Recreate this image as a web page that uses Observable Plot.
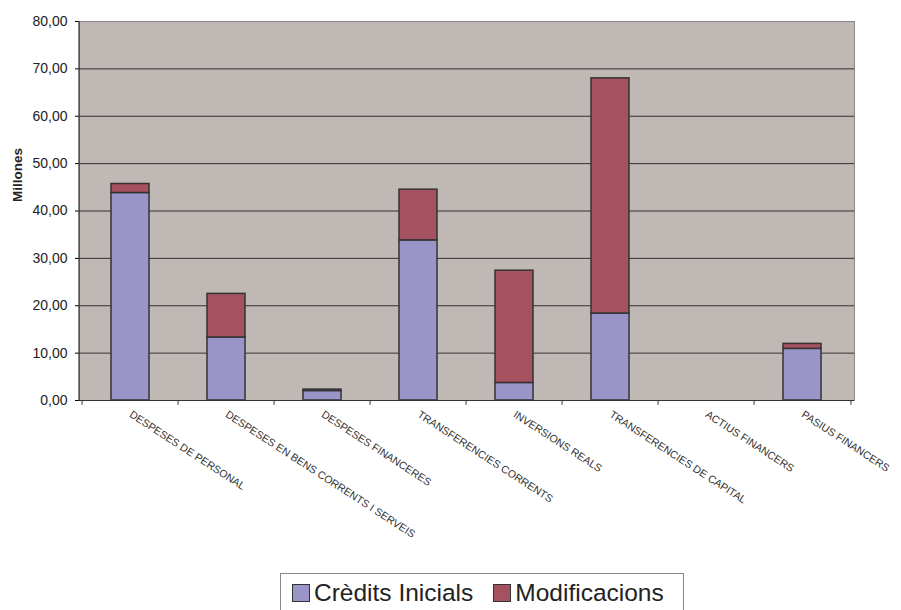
<!DOCTYPE html>
<html>
<head>
<meta charset="utf-8">
<script src="https://cdn.jsdelivr.net/npm/d3@7"></script>
<script src="https://cdn.jsdelivr.net/npm/@observablehq/plot@0.6"></script>
<style>
  body { margin: 0; background: #fff; font-family: "Liberation Sans", Arial, sans-serif; }
  #legend { position: absolute; left: 280px; top: 573px; width: 404px; height: 40px; border: 1px solid #888; box-sizing: border-box; display: flex; align-items: center; padding-left: 11px; font-size: 24.5px; color: #222; white-space: nowrap; }
  .sw { display: inline-block; flex: none; width: 18px; height: 18px; border: 1.5px solid #333; box-sizing: border-box; margin-right: 4px; }
  .item { display: flex; flex: none; align-items: center; margin-right: 20px; white-space: nowrap; }
</style>
</head>
<body>
<div id="chart"></div>
<div id="legend"></div>
<script>
const categories = [
  "DESPESES DE PERSONAL",
  "DESPESES EN BENS CORRENTS I SERVEIS",
  "DESPESES FINANCERES",
  "TRANSFERENCIES CORRENTS",
  "INVERSIONS REALS",
  "TRANSFERENCIES DE CAPITAL",
  "ACTIUS FINANCERS",
  "PASIUS FINANCERS"
];
const credits = [43.8, 13.3, 2.0, 33.8, 3.7, 18.35, 0, 10.9];
const modificacions = [1.9, 9.2, 0.3, 10.7, 23.7, 49.65, 0, 1.05];
const seriesNames = ["Crèdits Inicials", "Modificacions"];
const colors = ["#9A95C8", "#A5515F"];
const yTicks = [0, 10, 20, 30, 40, 50, 60, 70, 80];

const data = [];
categories.forEach((c, i) => {
  data.push({cat: c, series: seriesNames[0], value: credits[i]});
  data.push({cat: c, series: seriesNames[1], value: modificacions[i]});
});

const W = 901, H = 565, mL = 79, mR = 47, mT = 21, mB = 165;
const step = (W - mL - mR) / categories.length;

const chart = Plot.plot({
  width: W, height: H,
  marginLeft: mL, marginRight: mR, marginTop: mT, marginBottom: mB,
  style: {fontFamily: "Liberation Sans, Arial, sans-serif", background: "#fff"},
  x: {type: "band", domain: categories, paddingInner: 0.6, paddingOuter: 0.3, align: 0.5},
  y: {domain: [0, 80]},
  color: {domain: seriesNames, range: colors},
  marks: [
    Plot.frame({fill: "#C0B8B5", stroke: "#888", strokeWidth: 1}),
    Plot.ruleY(yTicks.filter(d => d > 0 && d < 80), {stroke: "#333", strokeWidth: 1}),
    Plot.barY(data, Plot.stackY({x: "cat", y: "value", fill: "series", stroke: "#333", strokeWidth: 1.5, order: seriesNames, filter: d => d.value > 0})),
    Plot.ruleY([0], {stroke: "#333", strokeWidth: 1.2}),
    Plot.ruleX(categories, {x: d => d, dx: -step / 2, y1: 0, y2: -1, stroke: "#333"}),
    Plot.ruleX([categories[categories.length - 1]], {x: d => d, dx: step / 2, y1: 0, y2: -1, stroke: "#333"}),
    Plot.axisY({ticks: yTicks, tickFormat: d => d.toFixed(2).replace(".", ","), tickSize: 4, tickPadding: 8, fontSize: 14, fill: "#222", label: null}),
    Plot.axisX({tickSize: 0, tickRotate: 33, tickPadding: 13, fontSize: 10.6, fill: "#333", label: null})
  ]
});
document.getElementById("chart").appendChild(chart);

// left axis line
d3.select(chart).append("line")
  .attr("x1", mL).attr("x2", mL).attr("y1", mT).attr("y2", H - mB)
  .attr("stroke", "#333").attr("stroke-width", 1.2);

// y-axis title
d3.select(chart).append("text")
  .attr("transform", "translate(22,175) rotate(-90)")
  .attr("text-anchor", "middle")
  .attr("font-weight", "bold")
  .attr("font-size", 13.5)
  .attr("fill", "#222")
  .text("Millones");

const legend = d3.select("#legend");
seriesNames.forEach((s, i) => {
  const it = legend.append("div").attr("class", "item");
  it.append("span").attr("class", "sw").style("background", colors[i]);
  it.append("span").text(s);
});
</script>
</body>
</html>
